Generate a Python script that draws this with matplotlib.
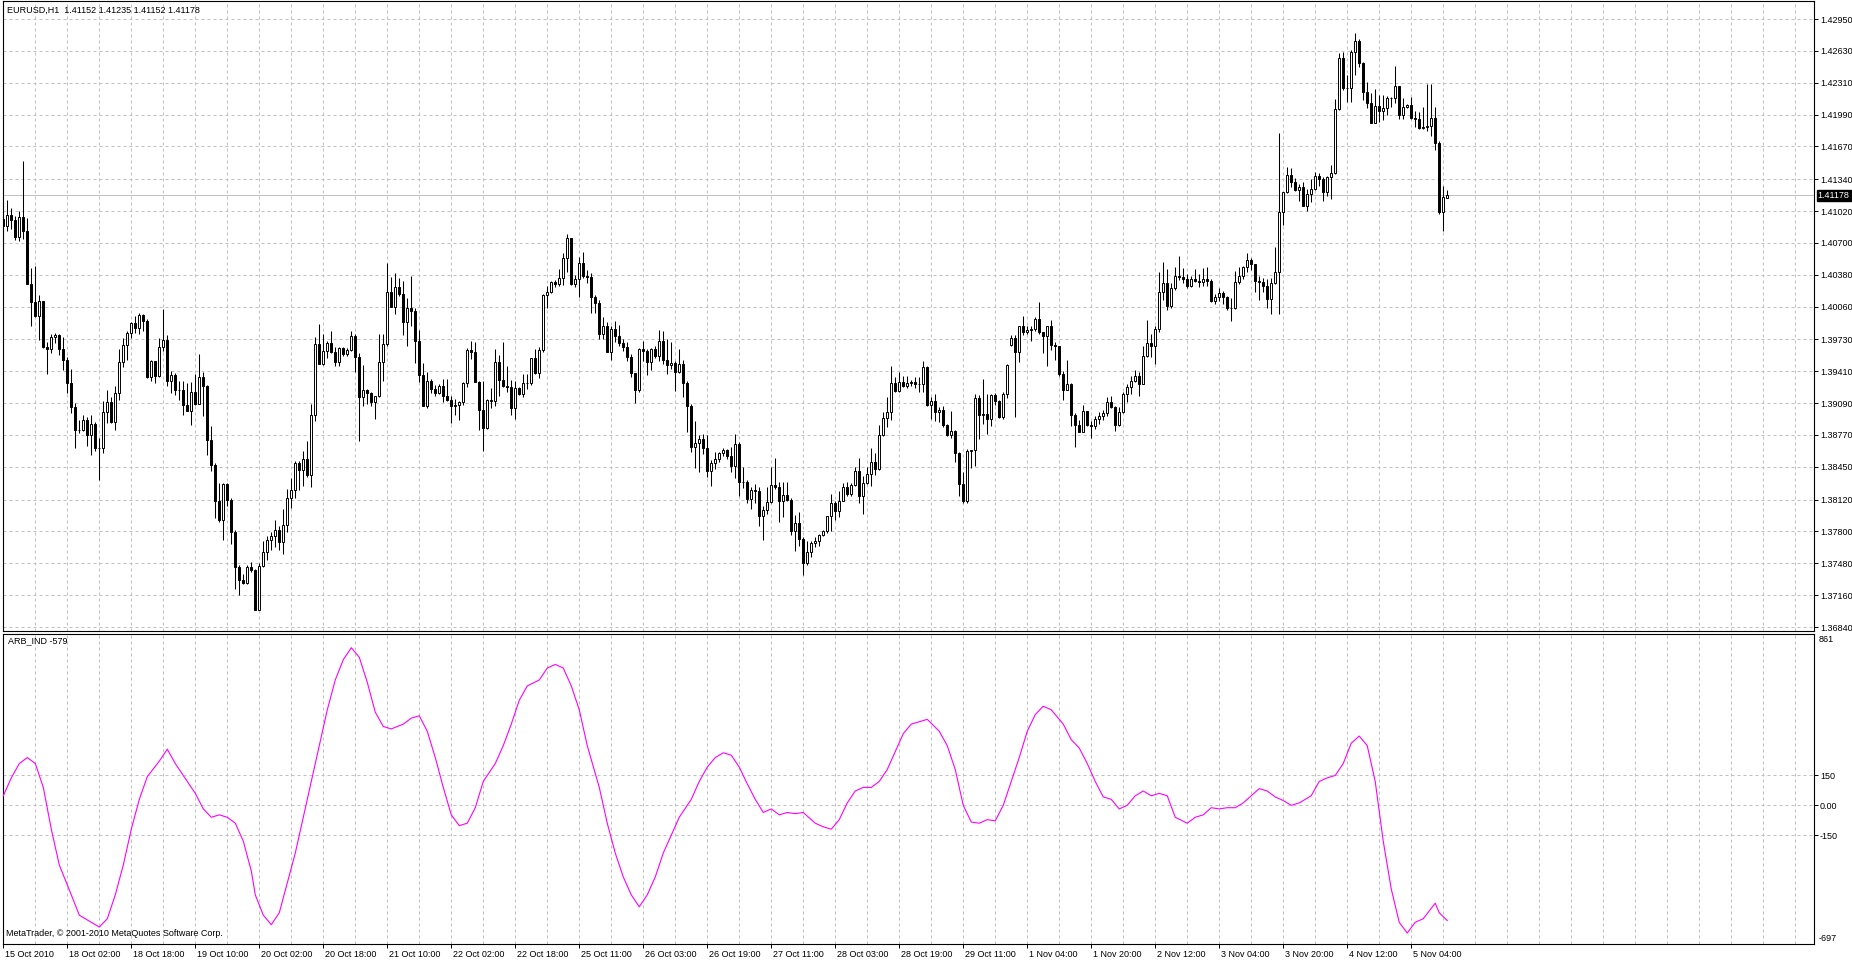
"""EURUSD H1 candles with the ARB_IND oscillator underneath (MetaTrader look)."""

import matplotlib
matplotlib.use("Agg")
import matplotlib.pyplot as plt
import matplotlib.transforms as mtransforms
import numpy as np

plt.rcParams['font.family'] = ['Liberation Sans', 'DejaVu Sans']
plt.rcParams['font.size'] = 6.5

SYMBOL = "EURUSD,H1"
BASE = 1.3600      # price lists below are pips above this level
PIP = 0.0001

close_pips = [
    487, 498, 493, 476, 496, 482, 429, 411, 397, 412, 365, 363, 375, 377, 363, 352,
    329, 305, 282, 282, 292, 277, 288, 264, 264, 300, 310, 290, 319, 350, 367, 379,
    390, 384, 398, 392, 335, 351, 336, 365, 372, 331, 337, 322, 322, 307, 301, 320,
    308, 335, 326, 272, 247, 211, 192, 228, 212, 179, 144, 131, 128, 144, 141, 101,
    145, 159, 171, 175, 181, 169, 187, 214, 222, 249, 242, 253, 237, 297, 368, 348,
    361, 369, 360, 350, 364, 358, 362, 376, 355, 315, 322, 319, 310, 316, 350, 368,
    421, 406, 426, 419, 391, 405, 402, 371, 337, 306, 331, 323, 319, 326, 316, 312,
    306, 307, 310, 329, 362, 360, 330, 302, 284, 312, 311, 350, 332, 326, 325, 304,
    324, 318, 329, 329, 354, 339, 362, 418, 421, 431, 429, 435, 455, 475, 429, 434,
    450, 437, 436, 416, 410, 378, 386, 360, 383, 376, 369, 365, 355, 339, 322, 363,
    361, 350, 363, 356, 371, 352, 347, 349, 340, 348, 329, 306, 265, 269, 273, 264,
    241, 249, 253, 259, 262, 256, 246, 268, 230, 230, 213, 222, 221, 196, 202, 210,
    227, 225, 211, 217, 212, 180, 189, 172, 148, 159, 168, 170, 176, 180, 196, 209,
    201, 211, 225, 218, 227, 241, 216, 229, 238, 250, 243, 277, 294, 300, 329, 321,
    330, 326, 329, 330, 328, 328, 345, 307, 311, 300, 302, 287, 277, 281, 259, 228,
    211, 261, 262, 314, 297, 298, 293, 317, 311, 295, 318, 347, 374, 360, 386, 380,
    382, 383, 394, 380, 376, 386, 367, 366, 338, 322, 328, 297, 287, 280, 301, 287,
    286, 293, 296, 299, 310, 305, 287, 300, 318, 325, 331, 336, 328, 356, 369, 366,
    383, 421, 430, 407, 425, 437, 436, 434, 427, 434, 432, 431, 434, 432, 412, 416,
    420, 416, 405, 405, 431, 437, 446, 453, 449, 432, 431, 427, 414, 430, 441, 501,
    521, 538, 531, 523, 526, 507, 519, 524, 537, 534, 521, 536, 540, 605, 656, 626,
    626, 662, 673, 651, 622, 611, 591, 608, 603, 606, 616, 616, 628, 599, 607, 609,
    596, 595, 585, 586, 587, 596, 570, 501, 516, 517.8,
]
high_pips = [
    496, 513, 505, 497, 502, 552, 495, 445, 447, 418, 412, 370, 378, 379, 378, 375,
    355, 343, 309, 292, 297, 295, 297, 290, 274, 311, 322, 315, 326, 363, 374, 381,
    391, 397, 400, 399, 394, 352, 351, 374, 404, 377, 341, 339, 331, 331, 329, 330,
    338, 358, 340, 327, 286, 249, 229, 229, 229, 214, 181, 146, 137, 146, 149, 142,
    148, 170, 175, 179, 192, 186, 203, 223, 234, 251, 251, 261, 271, 308, 375, 389,
    378, 371, 381, 365, 365, 365, 364, 381, 378, 359, 347, 323, 320, 316, 378, 378,
    450, 436, 440, 435, 432, 415, 437, 405, 382, 349, 340, 333, 327, 328, 333, 333,
    316, 313, 311, 330, 364, 371, 370, 331, 331, 313, 324, 363, 357, 370, 346, 332,
    331, 325, 338, 338, 354, 363, 365, 419, 427, 432, 433, 444, 460, 479, 475, 438,
    456, 461, 443, 440, 418, 413, 396, 391, 386, 392, 388, 373, 370, 358, 339, 364,
    371, 363, 364, 366, 382, 381, 373, 370, 351, 363, 352, 331, 308, 291, 277, 278,
    277, 252, 260, 260, 264, 263, 265, 278, 270, 245, 232, 225, 228, 225, 206, 225,
    245, 254, 230, 230, 230, 214, 197, 200, 174, 170, 170, 174, 177, 181, 196, 218,
    211, 221, 229, 230, 229, 245, 254, 236, 245, 264, 259, 287, 300, 315, 346, 335,
    340, 336, 336, 332, 335, 335, 351, 346, 315, 318, 305, 306, 288, 301, 282, 260,
    240, 263, 262, 318, 317, 333, 318, 318, 319, 312, 320, 348, 377, 377, 387, 397,
    386, 387, 396, 411, 380, 386, 393, 370, 366, 341, 352, 329, 299, 292, 307, 301,
    291, 296, 300, 302, 315, 316, 306, 305, 320, 328, 336, 342, 340, 366, 393, 378,
    386, 441, 451, 444, 430, 446, 457, 445, 439, 437, 444, 439, 445, 446, 434, 419,
    425, 422, 417, 415, 442, 446, 447, 460, 455, 449, 437, 435, 434, 435, 466, 580,
    521, 546, 545, 535, 529, 531, 524, 534, 541, 540, 536, 537, 548, 615, 661, 662,
    639, 664, 681, 675, 652, 632, 621, 625, 619, 619, 618, 617, 648, 628, 616, 610,
    617, 603, 602, 607, 630, 630, 607, 572, 527, 523.5,
]
low_pips = [
    467, 482, 484, 473, 472, 474, 429, 387, 396, 372, 364, 338, 359, 369, 357, 342,
    319, 299, 264, 279, 281, 266, 257, 261, 232, 259, 289, 289, 282, 312, 345, 352,
    374, 379, 378, 381, 334, 331, 329, 335, 361, 326, 319, 317, 312, 297, 301, 287,
    307, 310, 296, 257, 241, 194, 190, 171, 206, 167, 122, 116, 127, 127, 139, 101,
    101, 144, 151, 161, 164, 161, 157, 179, 204, 214, 222, 226, 235, 225, 291, 348,
    347, 354, 359, 346, 346, 356, 356, 361, 340, 271, 306, 308, 306, 293, 315, 331,
    366, 406, 399, 417, 377, 366, 386, 349, 330, 306, 304, 319, 316, 318, 310, 311,
    289, 297, 292, 307, 325, 353, 330, 282, 261, 283, 304, 306, 316, 325, 320, 297,
    293, 317, 315, 323, 327, 338, 334, 360, 405, 420, 426, 427, 428, 441, 428, 426,
    416, 435, 430, 400, 400, 373, 373, 360, 352, 370, 366, 361, 351, 335, 309, 320,
    351, 337, 342, 354, 351, 348, 338, 343, 321, 339, 315, 280, 260, 244, 240, 258,
    235, 226, 243, 250, 256, 253, 240, 234, 216, 224, 209, 203, 209, 186, 171, 198,
    209, 223, 190, 195, 211, 176, 160, 165, 136, 146, 154, 164, 165, 175, 178, 180,
    192, 195, 211, 216, 216, 226, 209, 198, 228, 226, 237, 242, 276, 285, 292, 320,
    320, 325, 324, 326, 324, 320, 320, 306, 293, 291, 290, 285, 276, 274, 250, 216,
    209, 209, 244, 246, 273, 288, 278, 286, 307, 294, 293, 314, 366, 295, 350, 377,
    378, 371, 381, 378, 359, 346, 362, 352, 336, 312, 322, 286, 265, 280, 280, 286,
    274, 283, 288, 292, 296, 304, 281, 286, 299, 310, 318, 330, 316, 328, 355, 355,
    348, 380, 413, 403, 405, 423, 433, 430, 425, 426, 431, 426, 427, 427, 411, 409,
    412, 409, 403, 392, 404, 429, 434, 441, 443, 421, 413, 421, 405, 399, 429, 399,
    488, 520, 526, 522, 512, 507, 502, 511, 523, 527, 512, 517, 514, 539, 604, 624,
    612, 612, 639, 647, 614, 606, 590, 590, 592, 594, 599, 607, 611, 595, 595, 606,
    595, 586, 584, 584, 582, 577, 563, 499, 482, 515.2,
]
# bars open at the previous close except these (first bar, weekend gap, last tick)
open_gap_pips = {0: 494, 252: 367, 361: 515.2}

# ARB_IND oscillator, sampled every couple of bars
ind_bars = [
    0, 2, 4, 6, 8, 10, 12, 14, 17, 19, 21, 24, 26, 28, 30, 32, 34, 36, 39, 41,
    43, 45, 48, 50, 52, 54, 56, 58, 60, 62, 63, 65, 67, 69, 71, 73, 75, 77, 79, 81,
    83, 85, 87, 89, 91, 93, 95, 97, 100, 102, 104, 106, 108, 110, 112, 114, 116, 118, 120, 123,
    125, 127, 129, 131, 134, 136, 138, 140, 142, 144, 146, 149, 151, 153, 155, 157, 159, 161, 163, 165,
    167, 169, 172, 174, 176, 178, 180, 182, 184, 186, 188, 190, 192, 194, 196, 198, 200, 203, 205, 207,
    209, 211, 213, 215, 217, 219, 221, 223, 225, 227, 229, 231, 234, 236, 238, 240, 242, 244, 246, 248,
    250, 252, 254, 256, 258, 260, 262, 265, 267, 269, 271, 273, 275, 277, 279, 281, 283, 285, 287, 289,
    291, 293, 296, 298, 300, 302, 304, 306, 308, 310, 312, 314, 316, 318, 320, 322, 324, 327, 329, 331,
    333, 335, 337, 339, 341, 343, 345, 347, 349, 351, 353, 355, 358, 359, 361,
]
ind_vals = [
    48, 138, 210, 240, 210, 90, -120, -300, -450, -552, -576, -612, -570, -450, -300, -120, 30, 144, 222, 282,
    210, 150, 60, -18, -60, -48, -60, -90, -180, -330, -450, -552, -600, -540, -390, -240, -60, 120, 300, 480,
    630, 732, 792, 744, 618, 468, 396, 384, 408, 438, 450, 372, 240, 90, -48, -102, -90, -12, 120, 210,
    300, 408, 528, 600, 630, 690, 708, 690, 600, 480, 300, 90, -90, -240, -360, -450, -510, -450, -360, -240,
    -150, -60, 30, 120, 192, 240, 264, 252, 192, 108, 30, -36, -18, -48, -36, -42, -36, -90, -108, -120,
    -72, 12, 72, 90, 90, 120, 180, 270, 360, 408, 420, 432, 372, 300, 180, 0, -84, -90, -72, -78,
    0, 120, 240, 372, 456, 498, 480, 408, 330, 288, 210, 120, 42, 30, -18, 0, 48, 72, 48, 60,
    48, -60, -90, -60, -48, -12, -18, -12, -12, 12, 48, 84, 72, 42, 24, 0, 12, 48, 120, 138,
    150, 210, 312, 348, 300, 120, -180, -420, -588, -642, -588, -570, -492, -540, -579,
]

price_ticks = [1.42950, 1.42630, 1.42310, 1.41990, 1.41670, 1.41340, 1.41020, 1.40700,
               1.40380, 1.40060, 1.39730, 1.39410, 1.39090, 1.38770, 1.38450, 1.38120,
               1.37800, 1.37480, 1.37160, 1.36840]
ind_ticks = [150, 0, -150]
ind_tick_labels = ["150", "0.00", "-150"]
ind_range = (-697, 861)
time_labels = ["15 Oct 2010", "18 Oct 02:00", "18 Oct 18:00", "19 Oct 10:00", "20 Oct 02:00",
               "20 Oct 18:00", "21 Oct 10:00", "22 Oct 02:00", "22 Oct 18:00", "25 Oct 11:00",
               "26 Oct 03:00", "26 Oct 19:00", "27 Oct 11:00", "28 Oct 03:00", "28 Oct 19:00",
               "29 Oct 11:00", "1 Nov 04:00", "1 Nov 20:00", "2 Nov 12:00", "3 Nov 04:00",
               "3 Nov 20:00", "4 Nov 12:00", "5 Nov 04:00"]


def to_price(pips):
    return BASE + np.asarray(pips, dtype=float) * PIP


close = to_price(close_pips)
high = to_price(high_pips)
low = to_price(low_pips)
opens = np.r_[0.0, close[:-1]]
for i, v in open_gap_pips.items():
    opens[i] = to_price(v)
bars = np.arange(len(close))

W, H = 1852, 961
XLIM = (-0.15, 452.7)
GRID = dict(colors='#c0c0c0', linewidth=0.72, linestyles=(0, (3, 3)), zorder=0)

fig = plt.figure(figsize=(W / 100, H / 100), dpi=100)
fig.patch.set_facecolor('white')
ax = fig.add_axes([2.7 / W, 1 - 631 / H, (1814 - 2.7) / W, 630 / H])
ax2 = fig.add_axes([2.7 / W, 1 - 944 / H, (1814 - 2.7) / W, 310 / H])

for a in (ax, ax2):
    a.set_xlim(*XLIM)
    for s in a.spines.values():
        s.set_color('black')
        s.set_linewidth(0.8)
    a.yaxis.tick_right()
    a.tick_params(axis='y', direction='out', length=3, width=0.7, pad=1.2,
                  labelsize=6.5, colors='black')
vgrid = np.arange(8, XLIM[1], 8)

# --- price window ---
ax.set_ylim(1.36800, 1.43131)
ax.vlines(vgrid, 1.36800, 1.43131, **GRID)
ax.hlines(price_ticks, *XLIM, **GRID)
ax.axhline(close[-1], color='#c0c0c0', lw=0.72, zorder=0.5)

ax.vlines(bars, low, high, colors='black', linewidth=0.75, zorder=2)
body_col = np.where(close >= opens, 'white', 'black')
ax.bar(bars, close - opens, bottom=opens, width=0.55, color=body_col,
       edgecolor='black', linewidth=0.7, zorder=3)

ax.set_yticks(price_ticks)
ax.set_yticklabels([f"{p:.5f}" for p in price_ticks])
ax.tick_params(axis='x', bottom=False, labelbottom=False)

ax.annotate(f"{close[-1]:.5f}", xy=(1, close[-1]), xycoords=('axes fraction', 'data'),
            xytext=(2.6, 0), textcoords='offset points', ha='left', va='center',
            color='white', fontsize=6.5, annotation_clip=False,
            bbox=dict(boxstyle='square,pad=0.12', fc='black', ec='black'))

fig.text(7 / W, 1 - 10 / H,
         f"{SYMBOL}  {opens[-1]:.5f} {high[-1]:.5f} {low[-1]:.5f} {close[-1]:.5f}",
         ha='left', va='center', fontsize=6.5, color='black')

# --- indicator window ---
ax2.set_ylim(*ind_range)
ax2.vlines(vgrid, *ind_range, **GRID)
ax2.hlines(ind_ticks, *XLIM, **GRID)
ax2.plot(ind_bars, ind_vals, color='#ff00ff', lw=0.8, zorder=3)

ax2.set_yticks(ind_ticks)
ax2.set_yticklabels(ind_tick_labels)
for val, va in ((ind_range[1], 'top'), (ind_range[0], 'bottom')):
    ax2.annotate(f"{val}", xy=(1, val), xycoords=('axes fraction', 'data'),
                 xytext=(3.5, -1 if va == 'top' else 1), textcoords='offset points',
                 ha='left', va=va, fontsize=6.5, annotation_clip=False)

ax2.set_xticks(np.arange(0, 16 * len(time_labels), 16))
ax2.set_xticklabels(time_labels)
ax2.tick_params(axis='x', direction='out', length=3, width=0.7, pad=1.5, labelsize=6.5)
shift = mtransforms.ScaledTranslation(2 / 100, 0, fig.dpi_scale_trans)
for lab in ax2.get_xticklabels():
    lab.set_horizontalalignment('left')
    lab.set_transform(lab.get_transform() + shift)

fig.text(8 / W, 1 - 641 / H, f"ARB_IND {ind_vals[-1]}", ha='left', va='center', fontsize=6.5)
fig.text(6 / W, 1 - 934 / H, "MetaTrader, © 2001-2010 MetaQuotes Software Corp.",
         ha='left', va='center', fontsize=6.5)

fig.savefig("out.png", dpi=100, facecolor='white')
